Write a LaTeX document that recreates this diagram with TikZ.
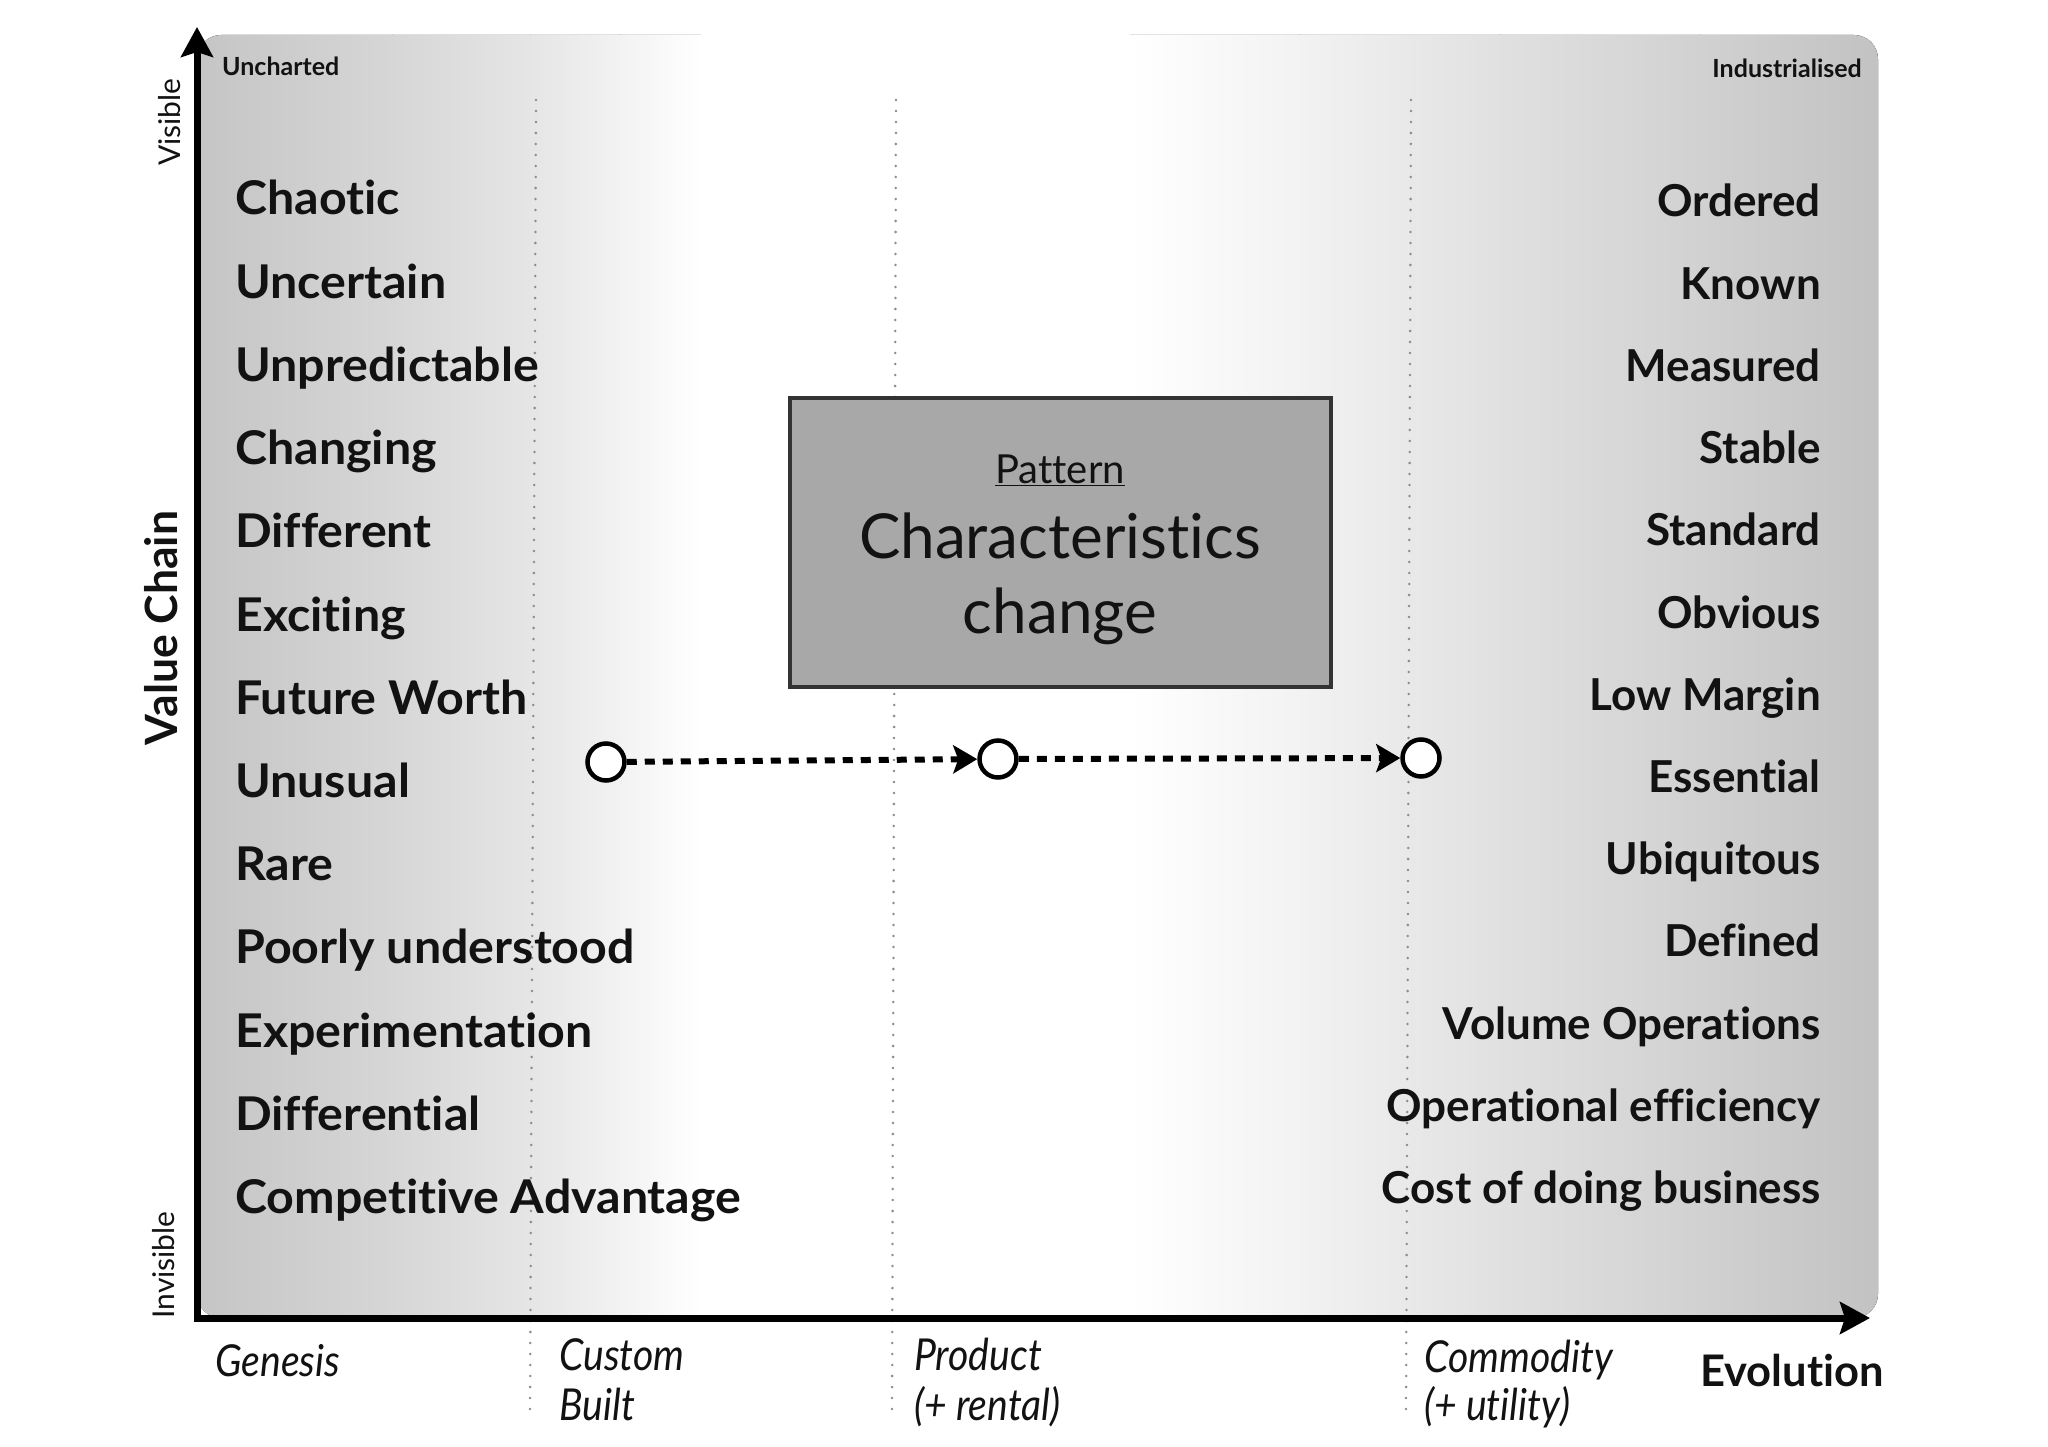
\documentclass[tikz,border=0pt]{standalone}
\usepackage{fontspec}
\setmainfont{Lato}[Ligatures=NoCommon]
\newfontfamily\condfont{Lato}[FakeStretch=0.89,Ligatures=NoCommon]
\newfontfamily\widefont{Lato}[FakeStretch=1.04,Ligatures=NoCommon]
\usetikzlibrary{arrows.meta}
\definecolor{txt}{gray}{0.07}
\begin{document}
\begin{tikzpicture}[x=1pt,y=-1pt,
  lefttxt/.style={anchor=base west, inner sep=0, text=txt, font=\fontsize{46.5}{52}\widefont\bfseries},
  righttxt/.style={anchor=base east, inner sep=0, text=txt, font=\fontsize{44}{50}\selectfont\bfseries},
  cornertxt/.style={inner sep=0, text=txt, font=\fontsize{25}{30}\selectfont\bfseries},
  sidetxt/.style={inner sep=0, rotate=90, text=txt, font=\fontsize{30}{36}\selectfont},
  stagetxt/.style={anchor=base west, inner sep=0, text=txt, font=\fontsize{44}{50}\condfont\itshape},
  axisline/.style={line width=7pt, line join=miter, {Stealth[length=30pt,width=32pt,inset=5pt]}-{Stealth[length=30pt,width=32pt,inset=5pt]}},
  dotline/.style={draw=black!45, line width=2.8pt, line cap=round, dash pattern=on 0pt off 11pt},
  stage/.style={circle, draw=black, fill=white, line width=4.5pt, minimum size=37pt, inner sep=0},
  flow/.style={line width=6pt, dash pattern=on 10pt off 8pt, -{Stealth[length=24pt,width=28pt,inset=5pt]}},
  pattbox/.style={draw=black!80, line width=4pt, fill=black!34, minimum width=541pt, minimum height=289pt, inner sep=0}]
\useasboundingbox (0,0) rectangle (2048,1447);

% background panel with gradient
\begin{scope}
  \clip[rounded corners=24pt] (197,35) rectangle (1878,1318);
  \fill[left color=black!23, right color=black!16] (190,30) rectangle (393,1325);
  \fill[left color=black!16, right color=black!10] (392,30) rectangle (531,1325);
  \fill[left color=black!10, right color=black!5] (530,30) rectangle (621,1325);
  \fill[left color=black!5, right color=white] (620,30) rectangle (701,1325);
  \fill[white] (700,30) rectangle (1131,1325);
  \fill[left color=white, right color=black!5] (1130,30) rectangle (1301,1325);
  \fill[left color=black!5, right color=black!12] (1300,30) rectangle (1501,1325);
  \fill[left color=black!12, right color=black!18] (1500,30) rectangle (1701,1325);
  \fill[left color=black!18, right color=black!24] (1700,30) rectangle (1885,1325);
\end{scope}

% dotted stage separators
\coordinate (d1t) at (536,100); \coordinate (d1b) at (530,1418);
\coordinate (d2t) at (896,100); \coordinate (d2b) at (892,1418);
\coordinate (d3t) at (1411,100); \coordinate (d3b) at (1406,1418);
\draw[dotline] (d1t) -- (d1b);
\draw[dotline] (d2t) -- (d2b);
\draw[dotline] (d3t) -- (d3b);

% axes
\coordinate (O) at (197,1318);
\coordinate (ytop) at (197,27);
\coordinate (xend) at (1870,1318);
\draw[axisline] (ytop) -- (O) -- (xend);

% corner labels
\node[cornertxt, anchor=west] (unch) at (222,66) {Uncharted};
\node[cornertxt, anchor=east] (indu) at (1862,68) {Industrialised};

% side labels
\node[sidetxt] (vis) at (170,122) {Visible};
\node[sidetxt] (invis) at (164,1265) {Invisible};
\node[sidetxt, font=\fontsize{44.5}{50}\selectfont\bfseries] (vchain) at (161,628) {Value Chain};

% left characteristics
\foreach \t [count=\i from 0] in {Chaotic,Uncertain,Unpredictable,Changing,Different,Exciting,Future Worth,Unusual,Rare,Poorly understood,Experimentation,Differential,Competitive Advantage}
  \node[lefttxt] (l\i) at (235,{215+83.2*\i}) {\t};

% right characteristics
\foreach \t [count=\i from 0] in {Ordered,Known,Measured,Stable,Standard,Obvious,Low Margin,Essential,Ubiquitous,Defined,Volume Operations,Operational efficiency,Cost of doing business}
  \node[righttxt] (r\i) at (1821,{217+82.2*\i}) {\t};

% pattern box
\node[pattbox] (box) at (1060,542.5) {};
\node[anchor=base, inner sep=0, text=txt, font=\fontsize{40}{46}\selectfont] (patt) at (1060,483) {\underline{Pattern}};
\node[anchor=base, inner sep=0, text=txt, font=\fontsize{62}{70}\selectfont] (chars) at (1060,558) {Characteristics};
\node[anchor=base, inner sep=0, text=txt, font=\fontsize{62}{70}\selectfont] (chg) at (1060,633) {change};

% evolution of a component
\node[stage] (c1) at (606,762) {};
\node[stage] (c2) at (998,759) {};
\node[stage] (c3) at (1421,758) {};
\draw[flow] (c1) -- (c2);
\draw[flow] (c2) -- (c3);

% stage labels
\node[stagetxt] (gen) at (215,1376) {Genesis};
\node[stagetxt] (cust) at (559,1370) {Custom};
\node[stagetxt] (built) at (559,1420) {Built};
\node[stagetxt] (prod) at (914,1370) {Product};
\node[stagetxt] (rent) at (914,1420) {(+ rental)};
\node[stagetxt] (comm) at (1424,1372) {Commodity};
\node[stagetxt] (util) at (1424,1420) {(+ utility)};
\node[anchor=base west, inner sep=0, text=txt, font=\fontsize{43.5}{50}\selectfont\bfseries] (evo) at (1700,1386) {Evolution};
\end{tikzpicture}
\end{document}
